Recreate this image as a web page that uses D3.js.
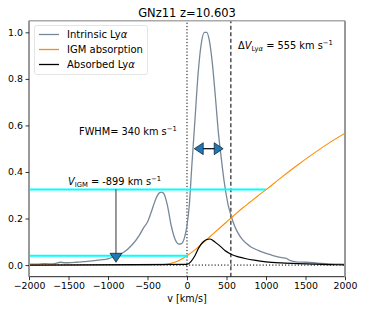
<!DOCTYPE html>
<html>
<head>
<meta charset="utf-8">
<script src="https://cdn.jsdelivr.net/npm/d3@7"></script>
<style>
  body { margin: 0; background: #fff; }
  svg { font-family: "DejaVu Sans", sans-serif; }
</style>
</head>
<body>
<svg id="chart" width="366" height="313"></svg>
<script>
/* GNz11 Lya line profile vs IGM transmission */

// velocity grid (km/s) and values
const vIntrinsic = [-2000, -1900, -1800, -1700, -1600, -1550, -1500, -1400, -1300, -1200, -1100,
  -1000, -900, -800, -700, -600, -550, -500, -450, -400, -350, -320, -290, -250, -200, -150,
  -100, -70, -30, 0, 30, 60, 80, 100, 140, 180, 220, 250, 280, 320, 360, 400, 430, 470, 520,
  560, 600, 650, 700, 800, 900, 1000, 1100, 1200, 1250, 1300, 1400, 1500, 1600, 1700, 1800,
  1900, 2000];
const fIntrinsic = [0.004, 0.004, 0.006, 0.005, 0.012, 0.01, 0.01, 0.012, 0.015, 0.018, 0.022,
  0.027, 0.04, 0.055, 0.085, 0.13, 0.16, 0.185, 0.23, 0.28, 0.31, 0.313, 0.305, 0.26, 0.17, 0.11,
  0.09, 0.092, 0.12, 0.17, 0.26, 0.42, 0.52, 0.62, 0.82, 0.95, 1.0, 1.0, 0.97, 0.87, 0.72, 0.56,
  0.47, 0.36, 0.26, 0.21, 0.17, 0.135, 0.11, 0.08, 0.063, 0.05, 0.04, 0.032, 0.03, 0.02, 0.013,
  0.012, 0.01, 0.007, 0.005, 0.004, 0.003];

const vIGM = [-2000, -400, -300, -200, -100, 0, 100, 200, 300, 400, 500, 600, 700, 800, 900,
  1000, 1200, 1400, 1600, 1800, 2000];
const fIGM = [0, 0, 0.002, 0.008, 0.02, 0.04, 0.065, 0.095, 0.125, 0.155, 0.185, 0.215, 0.244,
  0.271, 0.298, 0.324, 0.378, 0.43, 0.479, 0.525, 0.567];

const vAbsorbed = [-2000, 0, 50, 100, 150, 200, 250, 290, 330, 380, 430, 480, 530, 580, 650,
  750, 850, 1000, 1200, 1400, 1600, 1800, 2000];
const fAbsorbed = [0, 0.003, 0.015, 0.04, 0.075, 0.098, 0.11, 0.112, 0.105, 0.092, 0.078, 0.063,
  0.052, 0.043, 0.035, 0.027, 0.021, 0.014, 0.009, 0.006, 0.004, 0.002, 0.001];

const xTicks = [-2000, -1500, -1000, -500, 0, 500, 1000, 1500, 2000];
const yTicks = [0.0, 0.2, 0.4, 0.6, 0.8, 1.0];

const vIGMmark = -899;       // V_IGM
const dvLya = 555;           // Lya velocity offset
const fwhmRange = [92, 458]; // ends of the FWHM arrow
const fwhmLevel = 0.5;
const cyanHigh = 0.325, cyanHighEnd = 1000;
const cyanLow = 0.04, cyanLowEnd = 0;
const arrowTip = 0.012;

const legendItems = [
  {label: "Intrinsic Ly", color: "#778899"},
  {label: "IGM absorption", color: "#ff8c00"},
  {label: "Absorbed Ly", color: "#000"},
];

const margin = {top: 20.7, right: 21, bottom: 36.3, left: 29};
const width = 366, height = 313;

const svg = d3.select("#chart");

const x = d3.scaleLinear().domain([-2000, 2000])
  .range([margin.left, width - margin.right]);
const y = d3.scaleLinear().domain([-0.05, 1.05])
  .range([height - margin.bottom, margin.top]);

svg.append("defs").append("clipPath").attr("id", "clip")
  .append("rect")
  .attr("x", margin.left).attr("y", margin.top)
  .attr("width", x.range()[1] - margin.left)
  .attr("height", y.range()[0] - margin.top);

const plot = svg.append("g").attr("clip-path", "url(#clip)");

const line = d3.line()
  .x((d) => x(d[0]))
  .y((d) => y(d[1]))
  .curve(d3.curveMonotoneX);

const smoothLine = d3.line()
  .x((d) => x(d[0]))
  .y((d) => y(d[1]))
  .curve(d3.curveCatmullRom.alpha(0.5));

// reference lines
plot.append("line")
  .attr("x1", x(-2000)).attr("x2", x(2000))
  .attr("y1", y(0)).attr("y2", y(0))
  .attr("stroke", "#000").attr("stroke-width", 1)
  .attr("stroke-dasharray", "1.2,2");
plot.append("line")
  .attr("x1", x(0)).attr("x2", x(0))
  .attr("y1", y.range()[0]).attr("y2", y.range()[1])
  .attr("stroke", "#000").attr("stroke-width", 1)
  .attr("stroke-dasharray", "1.2,2");
plot.append("line")
  .attr("x1", x(dvLya)).attr("x2", x(dvLya))
  .attr("y1", y.range()[0]).attr("y2", y.range()[1])
  .attr("stroke", "#333").attr("stroke-width", 1.3)
  .attr("stroke-dasharray", "4,2.5");

// curves
plot.append("path")
  .datum(d3.zip(vIntrinsic, fIntrinsic))
  .attr("fill", "none").attr("stroke", "#778899").attr("stroke-width", 1.3)
  .attr("d", line);
plot.append("path")
  .datum(d3.zip(vIGM, fIGM))
  .attr("fill", "none").attr("stroke", "#ff8c00").attr("stroke-width", 1.1)
  .attr("d", smoothLine);
plot.append("path")
  .datum(d3.zip(vAbsorbed, fAbsorbed))
  .attr("fill", "none").attr("stroke", "#000").attr("stroke-width", 1.2)
  .attr("d", line);

// cyan levels
plot.append("line")
  .attr("x1", x(-2000)).attr("x2", x(cyanHighEnd))
  .attr("y1", y(cyanHigh)).attr("y2", y(cyanHigh))
  .attr("stroke", "#00ffff").attr("stroke-width", 2);
plot.append("line")
  .attr("x1", x(-2000)).attr("x2", x(cyanLowEnd))
  .attr("y1", y(cyanLow)).attr("y2", y(cyanLow))
  .attr("stroke", "#00ffff").attr("stroke-width", 2);

/** draw a filled triangle arrow head with its tip at (tx, ty)
  * pointing along direction (dx, dy) */
function head(tx, ty, dx, dy) {
  const len = 9, half = 6;
  const bx = tx - dx * len, by = ty - dy * len;
  const px = -dy * half, py = dx * half;
  svg.append("path")
    .attr("d", `M${tx},${ty}L${bx + px},${by + py}L${bx - px},${by - py}Z`)
    .attr("fill", "#1f77b4").attr("stroke", "#000").attr("stroke-width", 0.6);
}

// V_IGM arrow
svg.append("line")
  .attr("x1", x(vIGMmark)).attr("x2", x(vIGMmark))
  .attr("y1", y(cyanHigh)).attr("y2", y(arrowTip) - 6)
  .attr("stroke", "#333").attr("stroke-width", 1);
head(x(vIGMmark), y(arrowTip), 0, 1);

// FWHM double arrow
svg.append("line")
  .attr("x1", x(fwhmRange[0]) + 6).attr("x2", x(fwhmRange[1]) - 6)
  .attr("y1", y(fwhmLevel)).attr("y2", y(fwhmLevel))
  .attr("stroke", "#000").attr("stroke-width", 1.2);
head(x(fwhmRange[0]), y(fwhmLevel), -1, 0);
head(x(fwhmRange[1]), y(fwhmLevel), 1, 0);

// spines
const x0 = x.range()[0], x1 = x.range()[1];
const yb = y.range()[0], yt = y.range()[1];
svg.append("line").attr("x1", x0).attr("x2", x1).attr("y1", yt).attr("y2", yt)
  .attr("stroke", "#aaa").attr("stroke-width", 1.5);
svg.append("line").attr("x1", x0).attr("x2", x1).attr("y1", yb).attr("y2", yb)
  .attr("stroke", "#222").attr("stroke-width", 1);
svg.append("line").attr("x1", x0).attr("x2", x0).attr("y1", yt).attr("y2", yb)
  .attr("stroke", "#999").attr("stroke-width", 2);
svg.append("line").attr("x1", x1).attr("x2", x1).attr("y1", yt).attr("y2", yb)
  .attr("stroke", "#999").attr("stroke-width", 2);

// axes
const xAxis = svg.append("g")
  .attr("transform", `translate(0,${yb})`)
  .call(d3.axisBottom(x).tickValues(xTicks).tickSize(3.5).tickPadding(2)
    .tickFormat((d) => d < 0 ? "\u2212" + Math.abs(d) : String(d)));
xAxis.select(".domain").remove();

const yAxis = svg.append("g")
  .attr("transform", `translate(${x0},0)`)
  .call(d3.axisLeft(y).tickValues(yTicks).tickSize(3.5).tickPadding(2.5)
    .tickFormat(d3.format(".1f")));
yAxis.select(".domain").remove();
svg.selectAll(".tick line").attr("stroke", "#000").attr("stroke-width", 0.8);
svg.selectAll(".tick text")
  .attr("font-family", "DejaVu Sans").attr("font-size", 9.4).attr("fill", "#000");

svg.append("text")
  .attr("x", (x0 + x1) / 2).attr("y", 302)
  .attr("text-anchor", "middle").attr("font-size", 9.6)
  .text("v [km/s]");

// title
svg.append("text")
  .attr("x", (x0 + x1) / 2).attr("y", 16.5)
  .attr("text-anchor", "middle").attr("font-size", 11.5)
  .text("GNz11 z=10.603");

// annotations
const fwhmText = svg.append("text").attr("x", 79).attr("y", 135).attr("font-size", 9.8);
fwhmText.append("tspan").text("FWHM= 340 km s");
fwhmText.append("tspan").attr("dy", -4).attr("font-size", 6.8).text("\u22121");

const vText = svg.append("text").attr("x", 68).attr("y", 184.5).attr("font-size", 9.8);
vText.append("tspan").attr("font-style", "italic").text("V");
vText.append("tspan").attr("dy", 2).attr("font-size", 6.8).text("IGM");
vText.append("tspan").attr("dy", -2).text(" = -899 km s");
vText.append("tspan").attr("dy", -4).attr("font-size", 6.8).text("\u22121");

const dText = svg.append("text").attr("x", 238).attr("y", 48.5).attr("font-size", 9.8);
dText.append("tspan").text("\u0394");
dText.append("tspan").attr("font-style", "italic").text("V");
dText.append("tspan").attr("dy", 2).attr("font-size", 6.8).text("Ly");
dText.append("tspan").attr("font-size", 6.8).attr("font-style", "italic").text("\u03b1");
dText.append("tspan").attr("dy", -2).text(" =  555 km s");
dText.append("tspan").attr("dy", -4).attr("font-size", 6.8).text("\u22121");

// legend
const legend = svg.append("g");
legend.append("rect")
  .attr("x", 34.5).attr("y", 25.5).attr("width", 113).attr("height", 49)
  .attr("rx", 2).attr("fill", "#fff").attr("fill-opacity", 0.8)
  .attr("stroke", "#ddd").attr("stroke-width", 0.8);
legendItems.forEach((item, i) => {
  const yy = 34.5 + i * 15;
  legend.append("line")
    .attr("x1", 39).attr("x2", 59).attr("y1", yy).attr("y2", yy)
    .attr("stroke", item.color).attr("stroke-width", 1.3);
  const t = legend.append("text")
    .attr("x", 67).attr("y", yy + 3.6).attr("font-size", 10);
  t.append("tspan").text(item.label);
  if (item.label.endsWith("Ly")) {
    t.append("tspan").attr("font-style", "italic").text("\u03b1");
  }
});
</script>
</body>
</html>
